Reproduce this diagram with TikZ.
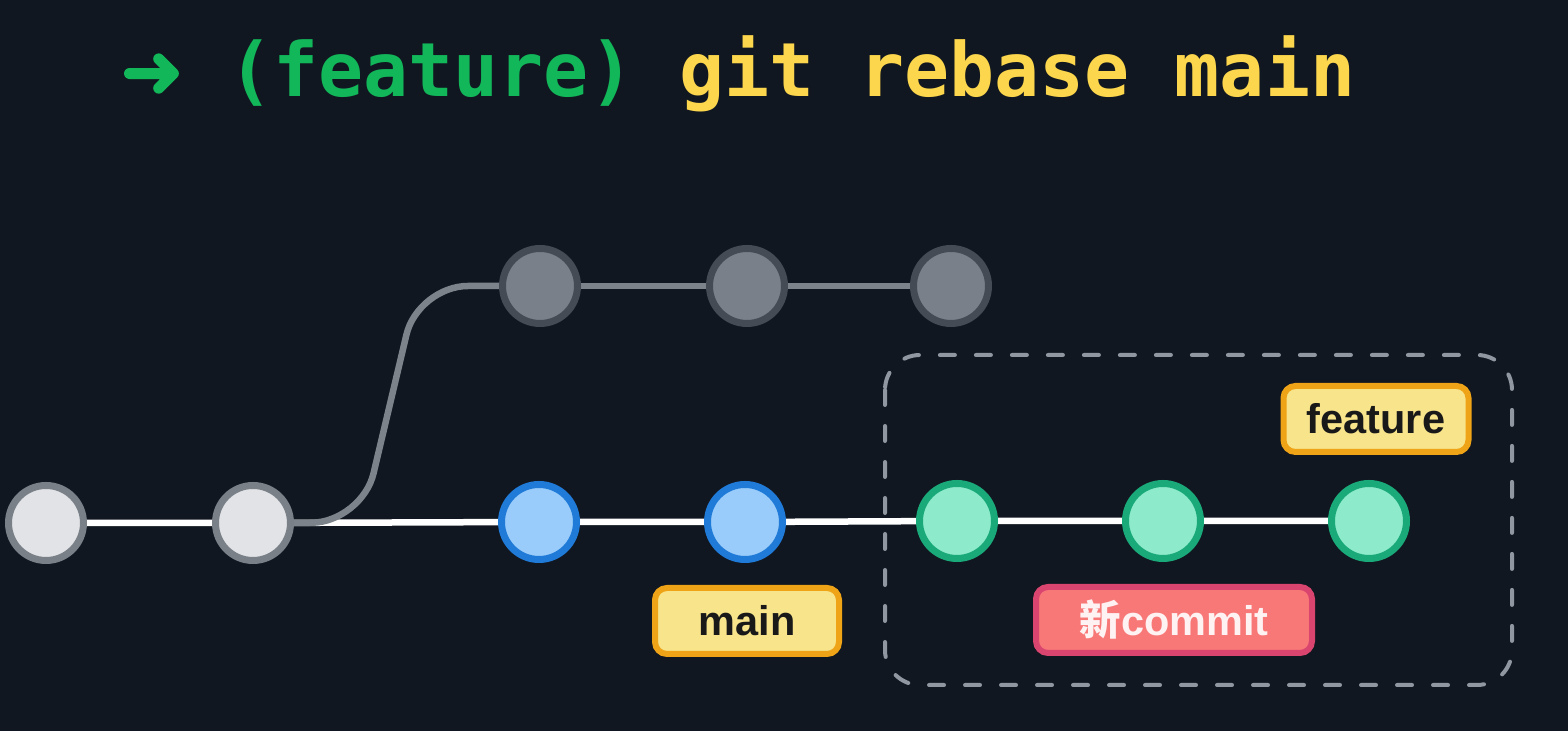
\documentclass[tikz,border=0pt]{standalone}
\usepackage{fontspec}
\setmainfont{Liberation Sans}
\newfontfamily\monofont{DejaVu Sans Mono}
\newfontfamily\arrowfont[FakeBold=2.5]{DejaVu Sans}
\newfontfamily\cjk{Noto Sans CJK SC}
\usepackage{xcolor}
\usepackage{tikz}
\usetikzlibrary{positioning,backgrounds}
\definecolor{bg}{HTML}{111720}
\definecolor{prompt}{HTML}{12B75A}
\definecolor{cmd}{HTML}{FCD64C}
\definecolor{basefill}{HTML}{E1E3E6}
\definecolor{baseedge}{HTML}{7A8088}
\definecolor{oldfill}{HTML}{7A8089}
\definecolor{oldedge}{HTML}{454B55}
\definecolor{stalegray}{HTML}{7D838B}
\definecolor{mainfill}{HTML}{99CCFA}
\definecolor{mainedge}{HTML}{1F7AD8}
\definecolor{newfill}{HTML}{8DEACB}
\definecolor{newedge}{HTML}{1AAA7A}
\definecolor{tagfill}{HTML}{F8E48A}
\definecolor{tagedge}{HTML}{EFA316}
\definecolor{hotfill}{HTML}{F87878}
\definecolor{hotedge}{HTML}{DA4570}
\definecolor{boxedge}{HTML}{9097A0}

\begin{document}
\begin{tikzpicture}[x=0.1mm,y=-0.1mm,
  commit/.style={circle, minimum size=7.5mm, inner sep=0pt, line width=0.7mm},
  cbase/.style={commit, draw=baseedge, fill=basefill},
  cold/.style={commit, draw=oldedge, fill=oldfill},
  cmain/.style={commit, draw=mainedge, fill=mainfill},
  cnew/.style={commit, draw=newedge, fill=newfill},
  tag/.style={rounded corners=1.2mm, line width=0.6mm, minimum height=6.6mm, inner sep=0pt,
    font=\bfseries\fontsize{11.8}{14}\selectfont},
  ref/.style={tag, draw=tagedge, fill=tagfill, text=black!90},
  hot/.style={tag, draw=hotedge, fill=hotfill, text=white!95!red},
  trunk/.style={draw=white, line width=0.65mm},
  stale/.style={draw=stalegray, line width=0.65mm},
  dashbox/.style={draw=boxedge, line width=0.4mm, dash pattern=on 1.5mm off 2.1mm, line cap=round, rounded corners=3.5mm}]
\useasboundingbox (0,0) rectangle (1568,731);
% Title
\node[anchor=base west, inner sep=0pt, font=\monofont\bfseries\fontsize{21.3}{26}\selectfont] (title) at (120,97)
  {{\color{prompt}\arrowfont ➜}\ {\color{prompt}(feature)} {\color{cmd}git rebase main}};
% Commits on main
\node[cbase] (c1) at (46,523) {};
\node[cbase] (c2) at (253,523) {};
\node[cmain] (m1) at (539,522) {};
\node[cmain] (m2) at (745,522) {};
% Old feature commits
\node[cold] (o1) at (540,286) {};
\node[cold] (o2) at (747,286) {};
\node[cold] (o3) at (951,286) {};
% Rebased commits
\node[cnew] (n1) at (957,521) {};
\node[cnew] (n2) at (1163,521) {};
\node[cnew] (n3) at (1369,521) {};
% Branch labels
\node[ref, minimum width=18.4mm] (lmain) at (747,621) {main};
\node[hot, minimum width=27.6mm] (lnew) at (1174,620) {{\cjk 新}commit};
\node[ref, minimum width=18.5mm] (lfeat) at (1376,419) {feature};
\begin{scope}[on background layer]
\fill[bg] (0,0) rectangle (1568,731);
\draw[dashbox] (885,355) rectangle (1512,685);
\draw[trunk] (c1) -- (c2) -- (m1) -- (m2) -- (n1) -- (n2) -- (n3);
\draw[stale, rounded corners=5mm] (c2.east) -- (362,522) -- (418,286) -- (o1.west);
\draw[stale] (o1) -- (o2) -- (o3);
\end{scope}
\end{tikzpicture}
\end{document}
